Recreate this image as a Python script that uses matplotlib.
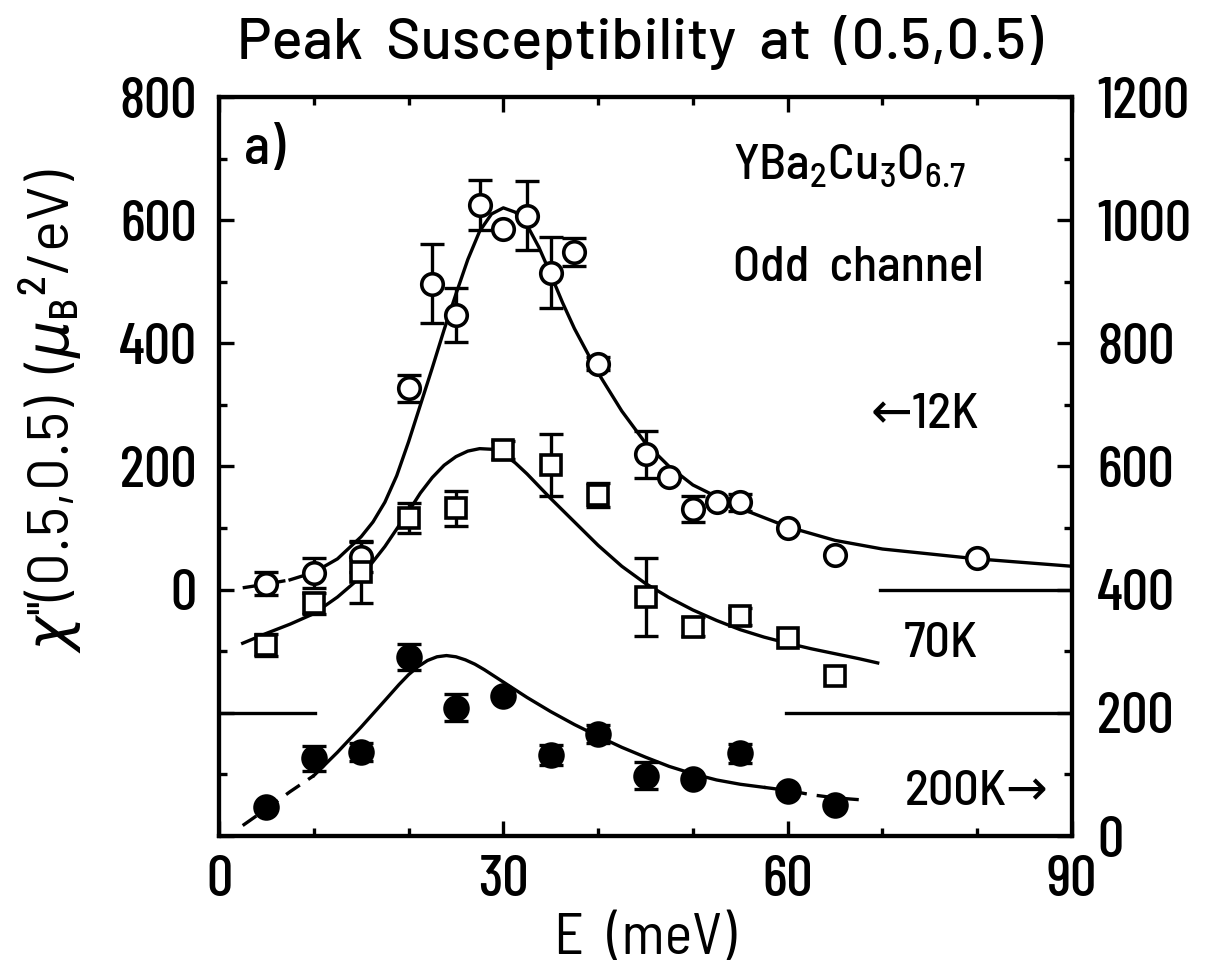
import numpy as np
import matplotlib
matplotlib.use("Agg")
import matplotlib.pyplot as plt
from matplotlib.ticker import FixedLocator, MultipleLocator, FuncFormatter

TEXT_FONT = "Barlow Semi Condensed"
TICK_FONT = "Barlow Condensed"
WIDE_FONT = "Barlow"
plt.rcParams["font.family"] = [TEXT_FONT, "DejaVu Sans"]
plt.rcParams["font.weight"] = 500
plt.rcParams["mathtext.fontset"] = "custom"
plt.rcParams["mathtext.rm"] = TEXT_FONT + ":medium"
plt.rcParams["mathtext.it"] = "DejaVu Sans:italic"

# 12 K, odd channel (open circles), left axis
e_12k = [5, 10, 15, 20, 22.5, 25, 27.5, 30, 32.5, 35, 37.5, 40, 45, 47.5, 50, 52.5, 55, 60, 65, 80]
chi_12k = [10, 27, 53, 327, 497, 446, 625, 585, 607, 515, 548, 367, 220, 183, 131, 143, 142, 100, 57, 52]
err_12k = [19, 25, 25, 22, 64, 44, 41, 0, 56, 57, 23, 11, 38, 0, 21, 0, 14, 0, 0, 0]

# 70 K (open squares)
e_70k = [5, 10, 15, 20, 25, 30, 35, 40, 45, 50, 55, 60, 65]
chi_70k = [-90, -22, 29, 116, 132, 227, 202, 154, -12, -60, -43, -78, -140]
err_70k = [18, 17, 50, 24, 28, 15, 50, 19, 64, 15, 14, 0, 0]

# 200 K (filled circles), right axis offset
e_200k = [5, 10, 15, 20, 25, 30, 35, 40, 45, 50, 55, 60, 65]
chi_200k = [-353, -274, -264, -109, -192, -172, -269, -234, -302, -307, -266, -327, -349]
err_200k = [0, 20, 15, 21, 22, 0, 16, 15, 22, 0, 15, 0, 0]

# fitted curves
fit_e_12k = [2.5, 5, 7.5, 10, 12.5, 15, 16.25, 17.5, 18.75, 20, 21.25, 22.5, 23.75, 25, 26.25, 27.5,
             28.75, 30, 31.25, 32.5, 33.75, 35, 36.25, 37.5, 40, 42.5, 45, 47.5, 50, 55, 60, 65,
             70, 80, 90]
fit_chi_12k = [3, 9, 16, 28, 50, 86, 110, 142, 185, 240, 300, 360, 422, 480, 536, 582,
               610, 620, 613, 592, 556, 512, 466, 424, 352, 290, 238, 200, 170, 132, 102, 80,
               66, 50, 38]
fit_e_70k = [2.5, 5, 7.5, 10, 12.5, 15, 17.5, 20, 21.25, 22.5, 23.75, 25, 26.25, 27.5, 28.75, 30,
             31.25, 32.5, 35, 37.5, 40, 42.5, 45, 47.5, 50, 52.5, 55, 57.5, 60, 62.5, 65, 67.5,
             69.5]
fit_chi_70k = [-87, -71, -56, -39, -12, 21, 70, 127, 157, 182, 202, 216, 225, 229, 228, 220,
               206, 188, 148, 110, 72, 38, 10, -13, -33, -50, -65, -77, -87, -96, -104, -112,
               -119]
fit_e_200k = [2.5, 5, 7.5, 10, 12.5, 15, 17.5, 19, 20, 21, 22, 23, 24, 25, 26, 27, 28, 29, 30,
              32.5, 35, 37.5, 40, 42.5, 45, 47.5, 50, 52.5, 55, 57.5, 60, 62.5, 65, 67.5]
fit_chi_200k = [-383, -356, -328, -302, -264, -223, -180, -154, -138, -125, -115, -109, -107,
                -109, -114, -121, -130, -140, -150, -175, -198, -219, -238, -256, -272, -287,
                -299, -309, -316, -321, -326, -333, -338, -341]

# baselines
base_12k = [(69.75, 90, 0)]
base_200k = [(0, 10.1, -200), (59.8, 90, -200)]

LW = 2.4
fig = plt.figure(figsize=(12.22, 9.8), dpi=100)
ax = fig.add_axes([219 / 1222, 1 - 836 / 980, 853 / 1222, 739 / 980])


def draw_fit(e, chi, dash_below=None, dash_above=None):
    e = np.array(e)
    chi = np.array(chi)
    lo = e[0] if dash_below is None else dash_below
    hi = e[-1] if dash_above is None else dash_above
    solid = (e >= lo) & (e <= hi)
    ax.plot(e[solid], chi[solid], color="black", lw=LW, zorder=2, solid_joinstyle="round")
    if dash_below is not None:
        m = e <= lo
        ax.plot(e[m], chi[m], color="black", lw=LW, ls=(0, (5, 3)), zorder=2)
    if dash_above is not None:
        m = e >= hi
        ax.plot(e[m], chi[m], color="black", lw=LW, ls=(0, (5, 3)), zorder=2)


def draw_points(e, chi, err, marker, face, size):
    e = np.array(e)
    chi = np.array(chi)
    err = np.array(err)
    m = err > 0
    ax.errorbar(e[m], chi[m], yerr=err[m], fmt="none", ecolor="black", elinewidth=LW,
                capsize=8.5, capthick=LW, zorder=3)
    ax.plot(e, chi, ls="none", marker=marker, ms=size, mfc=face, mec="black", mew=2.6, zorder=4)


draw_fit(fit_e_12k, fit_chi_12k, dash_below=7.5)
draw_fit(fit_e_70k, fit_chi_70k)
draw_fit(fit_e_200k, fit_chi_200k, dash_below=10, dash_above=57.5)

for x0, x1, y in base_12k + base_200k:
    ax.plot([x0, x1], [y, y], color="black", lw=LW, zorder=2)

draw_points(e_12k, chi_12k, err_12k, "o", "white", 15.5)
draw_points(e_70k, chi_70k, err_70k, "s", "white", 14)
draw_points(e_200k, chi_200k, err_200k, "o", "black", 16.5)

ax.set_xlim(0, 90)
ax.set_ylim(-400, 800)

ax2 = ax.twinx()
ax2.set_ylim(0, 1200)

FS = 42
ax.xaxis.set_major_locator(FixedLocator([0, 30, 60, 90]))
ax.xaxis.set_minor_locator(MultipleLocator(10))
ax.yaxis.set_major_locator(FixedLocator(list(range(-400, 801, 200))))
ax.yaxis.set_minor_locator(MultipleLocator(100))
ax.yaxis.set_major_formatter(FuncFormatter(lambda v, p: "" if v < 0 else f"{v:.0f}"))
ax2.yaxis.set_major_locator(FixedLocator(list(range(0, 1201, 200))))
ax2.yaxis.set_minor_locator(MultipleLocator(100))

ax.tick_params(which="both", direction="in", width=LW, top=True, right=False, labelsize=FS,
               labelfontfamily=TICK_FONT)
ax.tick_params(which="major", length=11)
ax.tick_params(which="minor", length=6)
ax.tick_params(axis="x", pad=14)
ax.tick_params(axis="y", pad=16)
ax2.tick_params(which="both", direction="in", width=LW, labelsize=FS, pad=18,
                labelfontfamily=TICK_FONT)
ax2.tick_params(which="major", length=11)
ax2.tick_params(which="minor", length=6)
for a in (ax, ax2):
    for s in a.spines.values():
        s.set_linewidth(3.0)

ax.set_xlabel("E  (meV)", fontsize=FS, labelpad=4)
ax.set_ylabel("$\\chi$''(0.5,0.5)  ($\\mu$$_\\mathrm{B}$$^\\mathrm{2}$/eV)", fontsize=FS,
              family=[WIDE_FONT, "DejaVu Sans"])
ax.yaxis.set_label_coords(-0.158, 0.575)
fig.text(640 / 1222, 1 - 42 / 980, "Peak  Susceptibility  at  (0.5,0.5)", fontsize=FS,
         ha="center", va="center", family=[WIDE_FONT, "DejaVu Sans"])

TS = 36
ax.text(2.6, 714, "a)", fontsize=40, va="center")
ax.text(54.2, 665, "YBa$_\\mathrm{2}$Cu$_\\mathrm{3}$O$_\\mathrm{6.7}$", fontsize=TS, va="baseline")
ax.text(54.2, 502, "Odd  channel", fontsize=TS, va="baseline")
ax.text(68.8, 262, "←12K", fontsize=TS, va="baseline")
ax.text(72.2, -110, "70K", fontsize=TS, va="baseline")
ax.text(72.4, -350, "200K→", fontsize=TS, va="baseline")

fig.savefig("out.png", dpi=100)
